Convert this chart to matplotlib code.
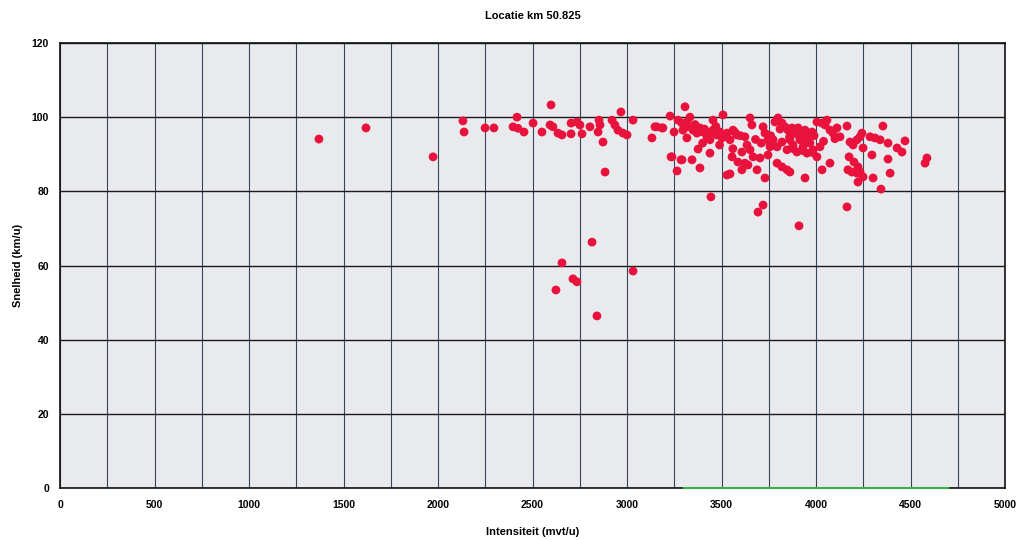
import matplotlib
matplotlib.use("Agg")
import matplotlib.pyplot as plt
from matplotlib.ticker import MultipleLocator

# Data
intensiteit = [
    1370, 1619, 1974, 2132, 2138, 2249, 2296, 2418, 2397, 2423, 2455,
    2598, 2503, 2550, 2593, 2608, 2635, 2656, 2704, 2735, 2751, 2704, 2762,
    2804, 2852, 2857, 2847, 2873, 2921, 2936, 2952, 2979, 3000, 2968, 3032,
    2884, 3148, 3190, 3132, 3228, 3307, 3238, 3291, 3265, 3344,
    2815, 2656, 2714, 2735, 2624, 2841, 3032,
    3158, 3185, 3249, 3270, 3291, 3317, 3333, 3296, 3317,
    3349, 3370, 3386, 3402, 3423, 3439, 3455, 3476, 3492, 3503, 3529, 3545, 3561, 3582,
    3455, 3508, 3317, 3376, 3439, 3439, 3233, 3286, 3386, 3444, 3529, 3545, 3556,
    3587, 3608, 3624, 3608, 3640, 3667, 3688, 3704, 3730, 3720, 3693,
    3651, 3661, 3624, 3635, 3651, 3720, 3730, 3746, 3757,
    3783, 3799, 3820, 3836, 3852, 3873, 3889, 3905, 3926, 3942, 3958, 3979,
    3773, 3794, 3820, 3847, 3862, 3878, 3899, 3915, 3931, 3952, 3968, 3984, 4005, 4021,
    4005, 4032, 4048, 4058, 4074, 4090, 4111, 4127,
    3794, 3820, 3847, 3862, 3746, 3757, 3942, 3910, 4032, 4074, 4164, 4164,
    4180, 4196, 4217, 4233, 4243, 4249, 4175, 4201, 4222,
    4169, 4190, 4217, 4233, 4222, 4249, 4296, 4302, 4344, 4354,
    4286, 4312, 4339, 4381, 4392, 4381, 4429, 4455, 4471, 4587, 4577,
    3360, 3410, 3470, 3520, 3570, 3600, 3680, 3710, 3760, 3810, 3860, 3900,
    3950, 3990, 4040, 4100, 3880, 3930, 3980, 3560, 3490, 3400,
]
snelheid = [
    94.1, 97.1, 89.3, 99.0, 96.0, 97.1, 97.1, 100.0, 97.4, 97.0, 96.0,
    103.3, 98.4, 96.0, 97.9, 97.4, 95.7, 95.2, 98.4, 98.7, 97.9, 95.5, 95.5,
    97.4, 99.2, 97.9, 96.0, 93.3, 99.2, 97.9, 96.5, 95.7, 95.2, 101.4, 99.2,
    85.2, 97.4, 97.1, 94.4, 100.3, 102.8, 89.3, 88.5, 85.5, 88.5,
    66.3, 60.7, 56.4, 55.6, 53.4, 46.4, 58.5,
    97.4, 97.1, 96.0, 99.2, 98.4, 98.7, 100.0, 96.5, 97.4,
    96.5, 95.7, 97.1, 96.0, 94.7, 95.7, 96.5, 95.2, 96.0, 94.4, 95.7, 93.9, 96.5, 95.2,
    99.2, 100.6, 94.4, 91.4, 93.9, 90.3, 89.3, 88.5, 86.3, 78.5, 84.4, 84.7, 89.3,
    87.9, 90.6, 87.6, 85.8, 87.1, 89.3, 85.8, 89.0, 83.6, 76.3, 74.4,
    99.8, 97.9, 94.7, 92.5, 91.2, 97.4, 95.7, 93.9, 92.0,
    98.7, 99.8, 98.4, 97.4, 96.5, 97.1, 96.0, 97.1, 95.7, 96.5, 95.2, 96.0,
    93.9, 92.0, 93.3, 91.2, 93.9, 92.5, 90.6, 93.9, 92.0, 90.3, 93.0, 91.2, 89.3, 92.0,
    98.7, 98.4, 97.9, 99.2, 96.5, 95.7, 97.1, 94.7,
    87.6, 86.6, 85.8, 85.2, 89.8, 92.5, 83.6, 70.7, 85.8, 87.6, 75.8, 97.6,
    93.3, 92.5, 93.9, 94.7, 95.7, 91.7, 89.3, 87.9, 86.6,
    85.8, 85.2, 84.9, 85.2, 82.5, 83.9, 89.8, 83.6, 80.6, 97.6,
    94.7, 94.4, 93.9, 93.0, 84.9, 88.7, 91.7, 90.6, 93.6, 89.0, 87.6,
    98.0, 96.8, 97.5, 94.8, 96.0, 95.0, 94.0, 93.0, 95.0, 96.8, 94.6, 95.4,
    94.0, 95.0, 93.5, 94.2, 91.5, 91.0, 90.5, 91.5, 92.5, 93.0,
]
nul_x = [3300, 4700]
nul_y = [0, 0]

plt.rcParams['font.family'] = ['Liberation Sans', 'DejaVu Sans']

fig = plt.figure(figsize=(10.23, 5.40), dpi=100)
fig.patch.set_facecolor('white')
ax = fig.add_axes([60/1023, 52/540, 945/1023, 445/540])
ax.set_facecolor('#e9eaee')

ax.set_xlim(0, 5000)
ax.set_ylim(0, 120)
ax.xaxis.set_major_locator(MultipleLocator(500))
ax.xaxis.set_minor_locator(MultipleLocator(250))
ax.yaxis.set_major_locator(MultipleLocator(20))
ax.grid(True, which='major', axis='y', color='#1a1a1a', linewidth=1.0)
ax.grid(True, which='both', axis='x', color='#34475a', linewidth=0.8)
ax.set_axisbelow(True)

ax.scatter(intensiteit, snelheid, s=40, color='#e8123c', edgecolors='none', zorder=3)

for sp in ax.spines.values():
    sp.set_color('#111111')
    sp.set_linewidth(1.2)

ax.plot(nul_x, nul_y, color='#3cb043', linewidth=1.5, zorder=4, clip_on=False)

ax.tick_params(axis='both', which='both', length=0, labelsize=7.5)
ax.tick_params(axis='x', pad=9)
ax.tick_params(axis='y', pad=8)
for lbl in ax.get_xticklabels() + ax.get_yticklabels():
    lbl.set_fontweight('bold')

ax.set_title('Locatie km 50.825', fontsize=8, fontweight='bold', pad=17)
ax.set_xlabel('Intensiteit (mvt/u)', fontsize=8, fontweight='bold', labelpad=12)
ax.set_ylabel('Snelheid (km/u)', fontsize=8, fontweight='bold', labelpad=6)

fig.savefig('out.png', dpi=100)
